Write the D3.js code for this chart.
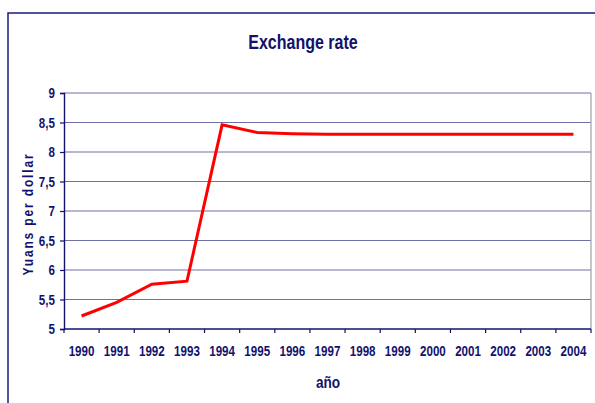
<!DOCTYPE html>
<html>
<head>
<meta charset="utf-8">
<script src="https://cdn.jsdelivr.net/npm/d3@7"></script>
<style>
  body { margin: 0; background: #fff; }
  text { font-family: "Liberation Sans", Arial, sans-serif; font-weight: bold; fill: #12126c; }
</style>
</head>
<body>
<svg id="chart" width="595" height="403"></svg>
<script>
// Years on the x axis
var years = ["1990", "1991", "1992", "1993", "1994", "1995", "1996", "1997",
             "1998", "1999", "2000", "2001", "2002", "2003", "2004"];

// Yuans per dollar
var rates = [5.22, 5.45, 5.76, 5.81, 8.46, 8.33, 8.31, 8.30,
             8.30, 8.30, 8.30, 8.30, 8.30, 8.30, 8.30];

var yTicks = [5, 5.5, 6, 6.5, 7, 7.5, 8, 8.5, 9];

var svg = d3.select("#chart");
var navy = "#12126c";

// Squeeze text horizontally, the original font looks tall and narrow
function narrow(sel, ratio) {
    sel.each(function () {
        var w = this.getComputedTextLength();
        d3.select(this)
            .attr("textLength", w * ratio)
            .attr("lengthAdjust", "spacingAndGlyphs");
    });
}

// Outer chart frame (runs off the right and bottom of the picture)
svg.append("rect")
    .attr("x", 8).attr("y", 13)
    .attr("width", 620).attr("height", 420)
    .attr("fill", "none")
    .attr("stroke", "#1a1a80")
    .attr("stroke-width", 1.5);

var plot = { left: 64, right: 591, top: 93, bottom: 329 };

var x = d3.scaleBand()
    .domain(years)
    .range([plot.left, plot.right]);

var y = d3.scaleLinear()
    .domain([5, 9])
    .range([plot.bottom, plot.top]);

var fmt = function (d) { return String(d).replace(".", ","); };

// Horizontal gridlines
svg.append("g").selectAll("line")
    .data(yTicks.slice(1))
    .join("line")
    .attr("x1", plot.left).attr("x2", plot.right)
    .attr("y1", function (d) { return y(d); })
    .attr("y2", function (d) { return y(d); })
    .attr("stroke", "#7070a8")
    .attr("stroke-width", 1.2);

// Right border of plot area
svg.append("line")
    .attr("x1", plot.right).attr("x2", plot.right)
    .attr("y1", plot.top).attr("y2", plot.bottom)
    .attr("stroke", "#a0a0a0")
    .attr("stroke-width", 1.2);

// Y axis
var yAxis = svg.append("g")
    .attr("transform", "translate(" + plot.left + ",0)")
    .call(d3.axisLeft(y).tickValues(yTicks).tickFormat(fmt).tickSize(4).tickPadding(5));

// X axis: ticks on category boundaries
var xAxis = svg.append("g")
    .attr("transform", "translate(0," + plot.bottom + ")")
    .call(d3.axisBottom(x).tickSize(0).tickPadding(17));

xAxis.selectAll(".boundary")
    .data(years.concat(["end"]))
    .join("line")
    .attr("class", "boundary")
    .attr("x1", function (d, i) { return plot.left + i * x.step(); })
    .attr("x2", function (d, i) { return plot.left + i * x.step(); })
    .attr("y1", 0).attr("y2", 4)
    .attr("stroke", navy)
    .attr("stroke-width", 1.2);

[yAxis, xAxis].forEach(function (g) {
    g.select(".domain").attr("stroke", navy).attr("stroke-width", 1.4);
    g.selectAll(".tick line").attr("stroke", navy).attr("stroke-width", 1.2);
    g.selectAll("text")
        .style("font-family", "'Liberation Sans', Arial, sans-serif")
        .style("font-weight", "bold")
        .style("font-size", "14.5px")
        .attr("fill", navy)
        .call(narrow, 0.8);
});
xAxis.select(".domain").attr("d", "M" + plot.left + ",0H" + plot.right);

// The exchange rate line
var line = d3.line()
    .x(function (d, i) { return x(years[i]) + x.bandwidth() / 2; })
    .y(function (d) { return y(d); });

svg.append("path")
    .datum(rates)
    .attr("d", line)
    .attr("fill", "none")
    .attr("stroke", "#ff0000")
    .attr("stroke-width", 3)
    .attr("stroke-linejoin", "miter");

// Titles
svg.append("text")
    .attr("x", 303).attr("y", 49)
    .attr("text-anchor", "middle")
    .style("font-size", "20px")
    .text("Exchange rate")
    .call(narrow, 0.8);

svg.append("text")
    .attr("x", 328).attr("y", 388)
    .attr("text-anchor", "middle")
    .style("font-size", "16px")
    .text("año")
    .call(narrow, 0.85);

// Spaced-out y title, squeezed to the length seen in the original
svg.append("text")
    .attr("transform", "translate(33,214) rotate(-90)")
    .attr("text-anchor", "middle")
    .style("font-size", "15px")
    .style("letter-spacing", "2.3px")
    .attr("textLength", 123)
    .attr("lengthAdjust", "spacingAndGlyphs")
    .text("Yuans per dollar");
</script>
</body>
</html>
